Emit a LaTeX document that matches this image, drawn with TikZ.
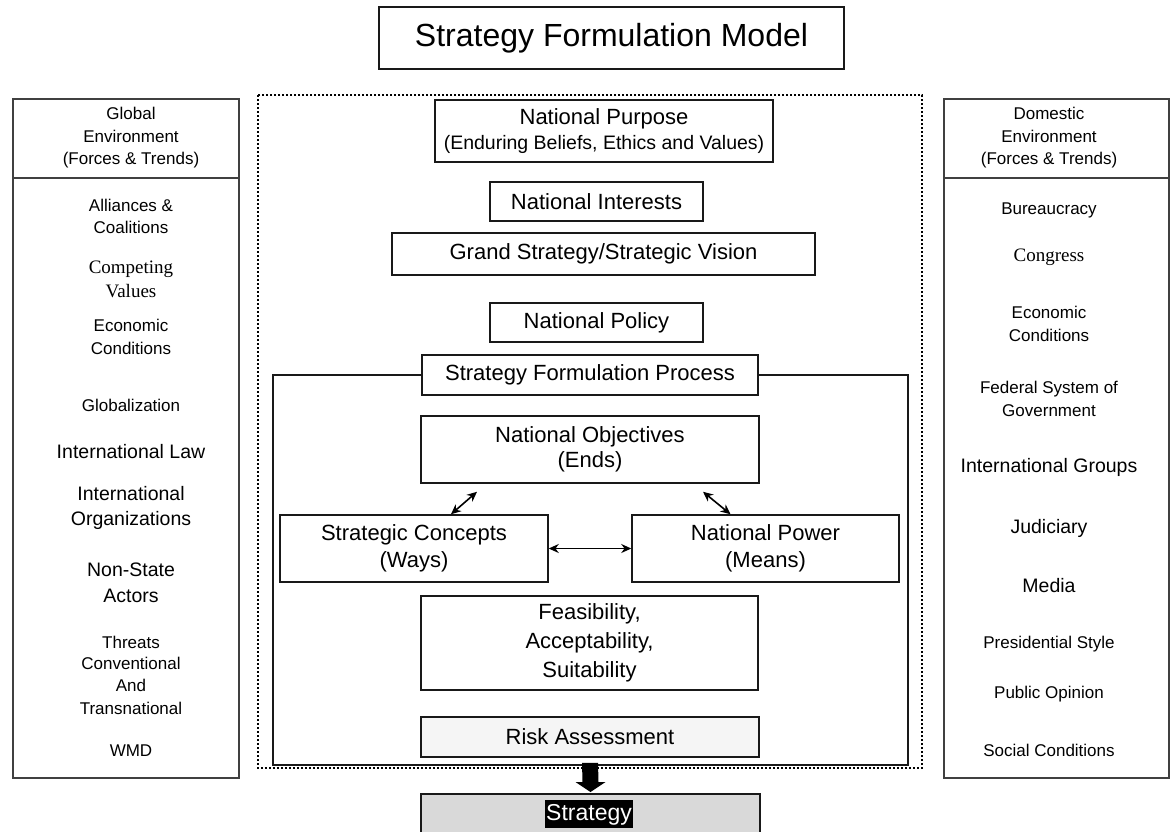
\documentclass[tikz,border=0pt]{standalone}
\usepackage{fontspec}
\setmainfont{Liberation Sans}
\newfontfamily\serifx{Liberation Serif}
\usetikzlibrary{calc,arrows.meta}
\tikzset{
  box/.style={draw=black!90, line width=1.5pt, inner sep=0pt, align=center},
  panel/.style={draw=black!75, line width=2pt},
  fbig/.style={font=\fontsize{22}{25}\selectfont},
  ftwo/.style={font=\fontsize{22}{27}\selectfont},
  sm/.style={anchor=base, font=\fontsize{17}{20}\selectfont, inner sep=0pt},
  lg/.style={anchor=base, font=\fontsize{19.5}{22}\selectfont, inner sep=0pt},
  sf/.style={anchor=base, font=\serifx\fontsize{19}{22}\selectfont, inner sep=0pt},
  link/.style={line width=1.6pt, {Stealth[length=10pt,width=9pt]}-{Stealth[length=10pt,width=9pt]}}
}
\begin{document}
\begin{tikzpicture}[x=1pt,y=-1pt]
\useasboundingbox (0,0) rectangle (1173,831);
\fill[white] (0,0) rectangle (1173,831);

% title
\node[box, minimum width=465, minimum height=62, font=\fontsize{32}{36}\selectfont] (title) at (611.5,38) {Strategy Formulation Model};

% left panel
\node[panel, minimum width=226, minimum height=679, anchor=north west, inner sep=0pt] (lp) at (12,98) {};
\draw[panel] (lp.west |- 0,178) coordinate (lpd1) -- (lp.east |- 0,178) coordinate (lpd2);
\node[sm] (lh1) at (131,119) {Global};
\node[sm] (lh2) at (131,142) {Environment};
\node[sm] (lh3) at (131,164) {(Forces \& Trends)};
\node[sm] (l1) at (131,211) {Alliances \&};
\node[sm] (l2) at (131,233) {Coalitions};
\node[sf] (l3) at (131,273) {Competing};
\node[sf] (l4) at (131,297) {Values};
\node[sm] (l5) at (131,331) {Economic};
\node[sm] (l6) at (131,354) {Conditions};
\node[sm] (l7) at (131,411) {Globalization};
\node[lg] (l8) at (131,458) {International Law};
\node[lg] (l9) at (131,500) {International};
\node[lg] (l10) at (131,525) {Organizations};
\node[lg] (l11) at (131,576) {Non-State};
\node[lg] (l12) at (131,602) {Actors};
\node[sm] (l13) at (131,648) {Threats};
\node[sm] (l14) at (131,669) {Conventional};
\node[sm] (l15) at (131,691) {And};
\node[sm] (l16) at (131,714) {Transnational};
\node[sm] (l17) at (131,756) {WMD};

% right panel
\node[panel, minimum width=225, minimum height=679, anchor=north west, inner sep=0pt] (rp) at (943,98) {};
\draw[panel] (rp.west |- 0,178) coordinate (rpd1) -- (rp.east |- 0,178) coordinate (rpd2);
\node[sm] (rh1) at (1049,119) {Domestic};
\node[sm] (rh2) at (1049,142) {Environment};
\node[sm] (rh3) at (1049,164) {(Forces \& Trends)};
\node[sm] (r1) at (1049,214) {Bureaucracy};
\node[sf] (r2) at (1049,261) {Congress};
\node[sm] (r3) at (1049,318) {Economic};
\node[sm] (r4) at (1049,341) {Conditions};
\node[sm] (r5) at (1049,393) {Federal System of};
\node[sm] (r6) at (1049,416) {Government};
\node[lg] (r7) at (1049,472) {International Groups};
\node[lg] (r8) at (1049,533) {Judiciary};
\node[lg] (r9) at (1049,592) {Media};
\node[sm] (r10) at (1049,648) {Presidential Style};
\node[sm] (r11) at (1049,698) {Public Opinion};
\node[sm] (r12) at (1049,756) {Social Conditions};

% dotted frame
\draw[line width=2.6pt, dash pattern=on 2.4pt off 1.6pt] (258,95) rectangle (922,768);

% center boxes
\node[box, minimum width=338, minimum height=62] (npur) at (604,131)
  {\fontsize{22}{25}\selectfont National Purpose\\[6pt]\fontsize{19.5}{22}\selectfont (Enduring Beliefs, Ethics and Values)};
\node[box, fbig, minimum width=213, minimum height=39] (nint) at (596.5,201.5) {National Interests};
\node[box, fbig, minimum width=423, minimum height=42] (gs) at (603.5,254) {Grand Strategy/Strategic Vision};
\node[box, fbig, minimum width=213, minimum height=39] (npol) at (596.5,322.5) {National Policy};

% strategy formulation process
\draw[line width=1.5pt, draw=black!90] (273,375) rectangle (908,765);
\node[box, fbig, fill=white, minimum width=336, minimum height=40] (sfp) at (590,375) {Strategy Formulation Process};
\node[box, fbig, minimum width=338, minimum height=67] (nobj) at (590,449.5) {National Objectives\\(Ends)};
\node[box, ftwo, minimum width=268, minimum height=67] (sc) at (414,548.5) {Strategic Concepts\\(Ways)};
\node[box, ftwo, minimum width=267, minimum height=67] (npow) at (765.5,548.5) {National Power\\(Means)};
\node[box, font=\fontsize{22}{29}\selectfont, minimum width=337, minimum height=94] (feas) at (589.5,643) {Feasibility,\\Acceptability,\\Suitability};
\node[box, fbig, fill=black!4, minimum width=338, minimum height=40] (ra) at (590,737) {Risk Assessment};

% strategy
\node[box, fill=black!15, minimum width=339, minimum height=60, anchor=north] (st) at (590.5,793) {};
\node[anchor=base, fill=black, text=white, inner xsep=1pt, inner ysep=3.5pt, font=\fontsize{23}{26}\selectfont] (stt) at (589,820) {Strategy};

% connectors
\draw[link] ($(sc.north)+(37,0)$) -- ($(nobj.south)+(-113,8)$);
\draw[link] ($(nobj.south)+(113,8)$) -- ($(npow.north)+(-35,0)$);
\draw[link] (sc.east) -- (npow.west);
\fill[black] ($(ra.south)+(-8,5)$) -- ($(ra.south)+(8,5)$) -- ($(st.north)+(8,-11)$) -- ($(st.north)+(15,-11)$)
  -- ($(st.north)+(0,-1)$) -- ($(st.north)+(-15,-11)$) -- ($(st.north)+(-8,-11)$) -- cycle;
\end{tikzpicture}
\end{document}
